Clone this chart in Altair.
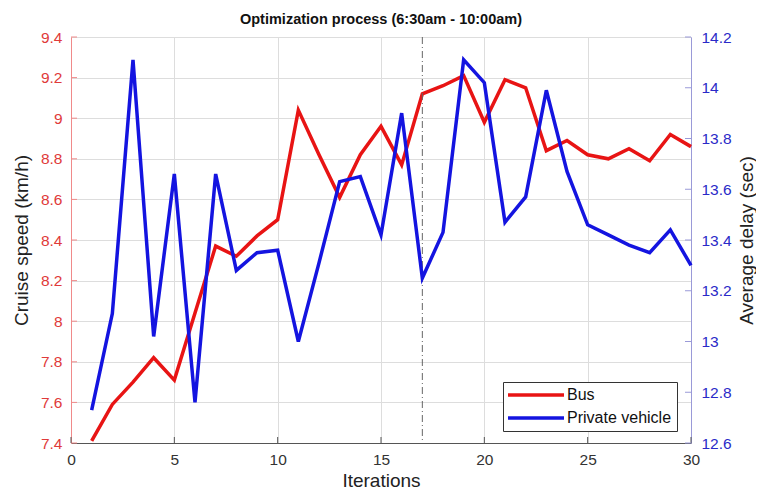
import altair as alt
import pandas as pd

# ---- data ----
iterations = list(range(1, 31))
bus = [7.41, 7.59, 7.70, 7.82, 7.71, 8.04, 8.37, 8.32, 8.42, 8.50,
       9.04, 8.82, 8.61, 8.82, 8.96, 8.77, 9.12, 9.16, 9.21, 8.98,
       9.19, 9.15, 8.84, 8.89, 8.82, 8.80, 8.85, 8.79, 8.92, 8.86]
private = [12.73, 13.11, 14.11, 13.02, 13.66, 12.76, 13.66, 13.28, 13.35, 13.36,
           13.00, 13.31, 13.63, 13.65, 13.42, 13.90, 13.25, 13.43, 14.11, 14.02,
           13.47, 13.57, 13.99, 13.67, 13.46, 13.42, 13.38, 13.35, 13.44, 13.30]
left_ticks = [7.4, 7.6, 7.8, 8.0, 8.2, 8.4, 8.6, 8.8, 9.0, 9.2, 9.4]
right_ticks = [12.6, 12.8, 13.0, 13.2, 13.4, 13.6, 13.8, 14.0, 14.2]
x_ticks = [0, 5, 10, 15, 20, 25, 30]
marker_iteration = [17]
series = ["Bus", "Private vehicle"]
colors = ["#e81414", "#1414e0"]

W, H = 620, 406
FONT = "Liberation Sans"
RED_LBL = "#e03a3a"
RED_AX = "#f08a8a"
BLUE_LBL = "#2a2ac8"
BLUE_AX = "#9a9ad8"

df = pd.DataFrame({"it": iterations, "bus": bus, "private": private})

xscale = alt.Scale(domain=[0, 30], nice=False, zero=False)
yl = alt.Scale(domain=[7.4, 9.4], nice=False, zero=False)
yr = alt.Scale(domain=[12.6, 14.2], nice=False, zero=False)
cscale = alt.Scale(domain=series, range=colors)

x_axis = alt.Axis(values=x_ticks, format="d", title="Iterations", orient="bottom",
                  domainColor="#555555", labelColor="#333333", labelFontSize=15.5,
                  labelPadding=9, ticks=False, tickSize=0, labelFlush=False,
                  titleX=W / 2, titleY=37.5, titleBaseline="middle", titleAlign="center",
                  titleFontSize=19, titleFontWeight="normal", titleColor="#222222")

left_axis = alt.Axis(
    orient="left", values=left_ticks, format="~g", title="Cruise speed (km/h)",
    domainColor=RED_AX, labelColor=RED_LBL, labelFontSize=15.5, labelPadding=9,
    ticks=False, tickSize=0, labelFlush=False,
    titleX=-50, titleY=H / 2, titleAngle=270, titleBaseline="middle", titleAlign="center",
    titleFontSize=19, titleFontWeight="normal", titleColor="#222222")

right_axis = alt.Axis(
    orient="right", values=right_ticks, format="~g", title="Average delay (sec)",
    domainColor=BLUE_AX, labelColor=BLUE_LBL, labelFontSize=15.5, labelPadding=10,
    ticks=False, tickSize=0, labelFlush=False,
    titleX=55, titleY=H / 2, titleAngle=270, titleBaseline="middle", titleAlign="center",
    titleFontSize=19, titleFontWeight="normal", titleColor="#222222")

legend = alt.Legend(title=None, orient="none", legendX=432, legendY=345,
                    strokeColor="#333333", fillColor="white", padding=5,
                    symbolType="stroke", symbolSize=3136, symbolStrokeWidth=3.5,
                    symbolOffset=-2, labelOffset=1, rowPadding=7,
                    labelFontSize=16, labelFont=FONT, labelColor="#111111",
                    clipHeight=16)

bus_line = alt.Chart(df).transform_calculate(series="'Bus'").mark_line(strokeWidth=3.5).encode(
    x=alt.X("it:Q", scale=xscale, axis=x_axis),
    y=alt.Y("bus:Q", scale=yl, axis=left_axis),
    color=alt.Color("series:N", scale=cscale, legend=legend),
)

left_tick_marks = alt.Chart(pd.DataFrame({"v": left_ticks})).mark_rule(
    color=RED_AX, strokeWidth=1).encode(
    y=alt.Y("v:Q", scale=yl, axis=left_axis), x=alt.value(0), x2=alt.value(6))

priv_line = alt.Chart(df).transform_calculate(series="'Private vehicle'").mark_line(strokeWidth=3.5).encode(
    x=alt.X("it:Q", scale=xscale, axis=x_axis),
    y=alt.Y("private:Q", scale=yr, axis=right_axis),
    color=alt.Color("series:N", scale=cscale, legend=legend),
)

right_tick_marks = alt.Chart(pd.DataFrame({"v": right_ticks})).mark_rule(
    color=BLUE_AX, strokeWidth=1).encode(
    y=alt.Y("v:Q", scale=yr, axis=right_axis), x=alt.value(W - 6), x2=alt.value(W))

x_tick_marks = alt.Chart(pd.DataFrame({"v": x_ticks})).mark_rule(
    color="#555555", strokeWidth=1).encode(
    x=alt.X("v:Q", scale=xscale, axis=x_axis), y=alt.value(H - 6), y2=alt.value(H))

vline = alt.Chart(pd.DataFrame({"v": marker_iteration})).mark_rule(
    color="#666666", strokeWidth=1, strokeDash=[7, 3, 1, 3]).encode(
    x=alt.X("v:Q", scale=xscale, axis=x_axis))

left = alt.layer(left_tick_marks, bus_line)
right = alt.layer(vline, x_tick_marks, right_tick_marks, priv_line)

chart = alt.layer(left, right).resolve_scale(y="independent").properties(
    width=W, height=H,
    autosize=alt.AutoSizeParams(type="none"),
    padding={"left": 63, "top": 29, "right": 65, "bottom": 47},
    title=alt.TitleParams("Optimization process (6:30am - 10:00am)", font=FONT,
                          fontSize=14.5, fontWeight="bold", color="#111111",
                          anchor="middle", offset=3),
).configure_view(stroke=None).configure_axis(
    grid=False, labelFont=FONT, titleFont=FONT
).configure(background="white")

chart.save("out.html", embed_options={"renderer": "svg", "actions": False})
